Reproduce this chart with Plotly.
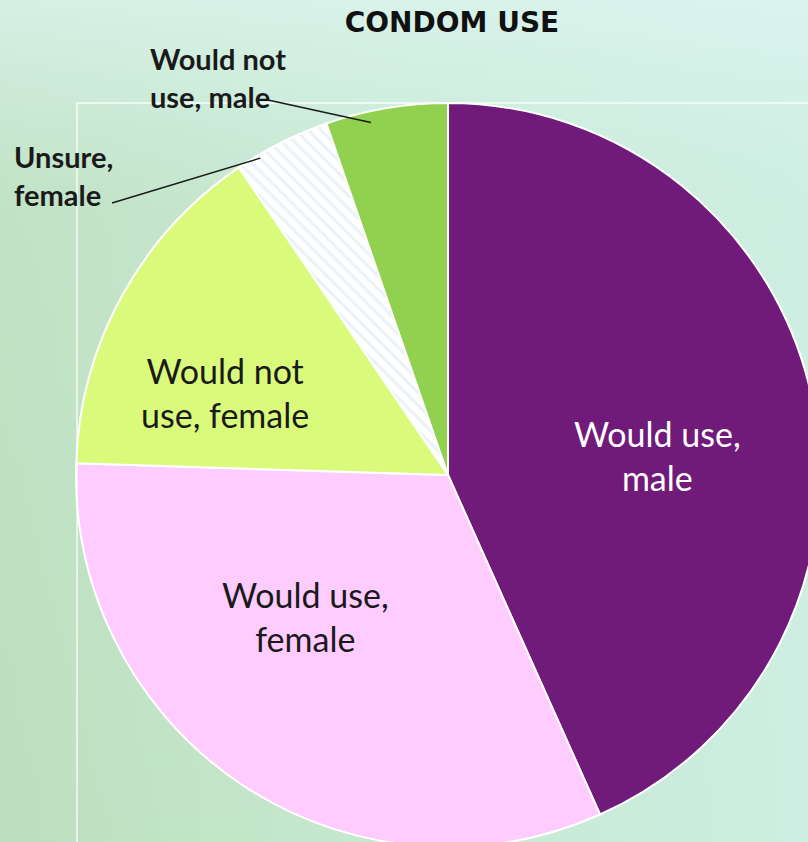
import math
import plotly.graph_objects as go

# ---- data -------------------------------------------------------------
labels = ["Would use, male", "Would use, female", "Would not use, female",
          "Unsure, female", "Would not use, male"]
slice_text = ["Would use,<br>male", "Would use,<br>female", "Would not<br>use, female", "", ""]
values = [43.3, 32.2, 15.0, 4.2, 5.3]
callout_labels = ["Would not use, male", "Unsure, female"]
callout_text = ["Would not<br>use, male", "Unsure,<br>female"]
title_text = "CONDOM USE"

# ---- styling ----------------------------------------------------------
colors = ["#701a7a", "#ffccff", "#dafa7b", "#ffffff", "#92d050"]
text_colors = ["#ffffff", "#1a1a1a", "#1a1a1a", "#1a1a1a", "#1a1a1a"]
patterns = ["", "", "", "\\", ""]
# where the in-slice labels sit: fraction of radius, and angular nudge from the slice middle
label_r = [0.565, 0.54, 0.64, None, None]
label_shift = [6.8, 11.5, -8.5, 0, 0]

W, H = 822, 848            # canvas is a bit larger than the window; the pie runs off the edge
PIE_L, PIE_T, PIE_S = 76, 103, 744
dom_x = [PIE_L / W, (PIE_L + PIE_S) / W]
dom_y = [(H - PIE_T - PIE_S) / H, (H - PIE_T) / H]
cx, cy = sum(dom_x) / 2, sum(dom_y) / 2
rx, ry = (PIE_S / 2) / W, (PIE_S / 2) / H


def px_to_paper(x, y):
    return x / W, 1 - y / H


def slice_point(i, r, shift=0.0):
    """Point at fraction r of the radius on a slice's middle angle (clockwise from 12 o'clock)."""
    total = sum(values)
    start = sum(values[:i]) / total * 360
    mid = math.radians(start + values[i] / total * 180 + shift)
    return cx + r * rx * math.sin(mid), cy + r * ry * math.cos(mid)


fig = go.Figure()

# soft green/teal backdrop
for cs, kind in [
    ([[0, "#bddfbd"], [0.45, "#c6e8d0"], [1, "#cdeee2"]], "horizontal"),
    ([[0, "rgba(215,242,236,0)"], [0.75, "rgba(215,242,236,0.15)"], [1, "rgba(222,246,242,0.75)"]], "vertical"),
]:
    fig.add_trace(go.Scatter(
        x=[0, 1, 1, 0, 0], y=[0, 0, 1, 1, 0], mode="lines", fill="toself",
        line=dict(width=0), fillgradient=dict(type=kind, colorscale=cs),
        hoverinfo="skip", showlegend=False,
    ))

fig.add_trace(go.Pie(
    labels=labels, values=values,
    sort=False, direction="clockwise", rotation=0,
    textinfo="none",
    marker=dict(
        colors=colors, line=dict(color="white", width=2),
        pattern=dict(shape=patterns, fgcolor="#d8e5ee", fillmode="overlay", size=9, solidity=0.35),
    ),
    domain=dict(x=dom_x, y=dom_y),
    hoverinfo="skip", showlegend=False,
))

# in-slice labels
for i, txt in enumerate(slice_text):
    if not txt:
        continue
    lx, ly = slice_point(i, label_r[i], label_shift[i])
    fig.add_annotation(x=lx, y=ly, xref="paper", yref="paper", text=txt, showarrow=False,
                       xanchor="center", yanchor="middle", align="center",
                       font=dict(family="Lato", size=34, color=text_colors[i]))

# frame of the plot area
fig.add_shape(type="rect", xref="paper", yref="paper",
              x0=(PIE_L + 1) / W, x1=1.2, y0=-0.2, y1=dom_y[1],
              line=dict(color="rgba(255,255,255,0.85)", width=1.5), layer="above")

# callouts for the two thin slices
label_pos = [(218, 77), (63, 175)]
line_start = [(268, 100), (112, 203)]
tip_r = [0.97, 0.99]
tip_shift = [-2.8, -4.0]
for k, (lab, txt) in enumerate(zip(callout_labels, callout_text)):
    px, py = slice_point(labels.index(lab), tip_r[k], tip_shift[k])
    x0, y0 = px_to_paper(*line_start[k])
    fig.add_shape(type="line", xref="paper", yref="paper", x0=x0, y0=y0, x1=px, y1=py,
                  line=dict(color="#1a1a1a", width=1.5), layer="above")
    ax, ay = px_to_paper(*label_pos[k])
    fig.add_annotation(x=ax, y=ay, xref="paper", yref="paper", text=txt, showarrow=False,
                       xanchor="center", yanchor="middle", align="left",
                       font=dict(family="Lato", size=29, color="#1a1a1a", weight="bold"))

fig.update_layout(
    width=W, height=H,
    margin=dict(l=0, r=0, t=0, b=0),
    paper_bgcolor="#c4e4c6", plot_bgcolor="rgba(0,0,0,0)",
    xaxis=dict(visible=False, range=[0, 1], fixedrange=True),
    yaxis=dict(visible=False, range=[0, 1], fixedrange=True),
    title=dict(text=title_text, x=452 / W, xanchor="center", y=1 - 22 / H, yanchor="middle",
               font=dict(family="DejaVu Sans", size=28, color="#111111", weight="bold")),
)

fig.write_html(
    "out.html",
    post_script="document.body.style.margin='0';document.body.style.overflow='hidden';"
                "document.documentElement.style.overflow='hidden';",
)
